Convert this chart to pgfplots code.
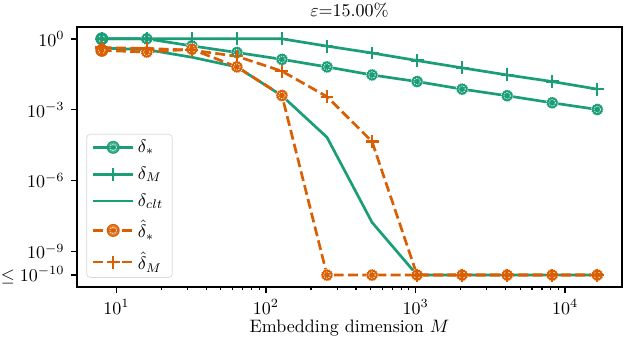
\documentclass[border=0pt]{standalone}
\usepackage{pgfplots}
\pgfplotsset{compat=1.18}
\definecolor{cgreen}{HTML}{1B9E77}
\definecolor{corange}{HTML}{D95F02}
% filled circle with a thin dotted white ring inside
\pgfdeclareplotmark{ringdot}{%
  \pgfpathcircle{\pgfpointorigin}{\pgfplotmarksize}%
  \pgfusepathqfillstroke
  \pgfsetstrokecolor{white}%
  \pgfsetlinewidth{0.35pt}%
  \pgfsetdash{{0.7pt}{0.6pt}}{0pt}%
  \pgfpathcircle{\pgfpointorigin}{0.55\pgfplotmarksize}%
  \pgfusepathqstroke
}
\begin{document}
\begin{tikzpicture}
\begin{axis}[
  scale only axis,
  width=302.8pt, height=144.4pt,
  xmode=log, ymode=log,
  xmin=5.464, xmax=23988,
  ymin=3.162e-11, ymax=3.162,
  xtick={10,100,1000,10000},
  ytick={1e-10,1e-9,1e-6,1e-3,1},
  yticklabels={$\leq 10^{-10}$,$10^{-9}$,$10^{-6}$,$10^{-3}$,$10^{0}$},
  minor ytick={},
  tick pos=left, tick align=outside,
  major tick length=3.5pt, minor tick length=2pt,
  tick style={black, line width=0.8pt},
  minor tick style={line width=0.6pt},
  axis line style={line width=0.8pt},
  every axis title shift=0pt,
  title={$\varepsilon$=15.00\%},
  title style={at={(axis description cs:0.5,1)}, anchor=base, yshift=5.8pt},
  xlabel={Embedding dimension $M$},
  xlabel style={at={(axis description cs:0.5,0)}, anchor=base, yshift=-25.6pt},
  legend style={at={(0.017,0.035)}, anchor=south west, draw=black!15,
    rounded corners=2pt, fill=white, fill opacity=0.8, text opacity=1,
    row sep=2.5pt, inner xsep=3pt, inner ysep=1pt},
  legend cell align=left,
  legend image code/.code={%
    \draw[mark repeat=2,mark phase=2] plot coordinates {(0pt,0pt) (11pt,0pt) (22pt,0pt)};},
]
% delta_*
\addplot[cgreen, line width=1.5pt, mark=ringdot, mark size=3.3pt,
  mark options={solid, fill=cgreen, line width=0.6pt}] coordinates {
  (8,1) (16,1) (32,0.501) (64,0.263) (128,0.135) (256,0.0646) (512,0.0295)
  (1024,0.0155) (2048,0.00741) (4096,0.00389) (8192,0.00195) (16384,0.00102)};
\addlegendentry{$\delta_*$}
% delta_M
\addplot[cgreen, line width=1.5pt, mark=+, mark size=3.6pt,
  mark options={solid, line width=1.2pt}] coordinates {
  (8,1) (16,1) (32,1) (64,1) (128,1) (256,0.490) (512,0.251)
  (1024,0.120) (2048,0.0589) (4096,0.0295) (8192,0.0155) (16384,0.00741)};
\addlegendentry{$\delta_M$}
% delta_clt
\addplot[cgreen, line width=1.5pt] coordinates {
  (8,0.407) (16,0.347) (32,0.166) (64,0.0646) (128,0.00389) (256,6.76e-5) (512,1.70e-8)
  (1024,1e-10) (2048,1e-10) (4096,1e-10) (8192,1e-10) (16384,1e-10)};
\addlegendentry{$\delta_{clt}$}
% hat delta_*
\addplot[corange, line width=1.5pt, dash pattern=on 5.5pt off 2.4pt, mark=ringdot, mark size=3.3pt,
  mark options={solid, fill=corange, line width=0.6pt}] coordinates {
  (8,0.324) (16,0.275) (32,0.363) (64,0.0646) (128,0.00398) (256,1e-10) (512,1e-10)
  (1024,1e-10) (2048,1e-10) (4096,1e-10) (8192,1e-10) (16384,1e-10)};
\addlegendentry{$\hat\delta_*$}
% hat delta_M
\addplot[corange, line width=1.5pt, dash pattern=on 5.5pt off 2.4pt, mark=+, mark size=3.6pt,
  mark options={solid, line width=1.2pt}] coordinates {
  (8,0.427) (16,0.389) (32,0.331) (64,0.182) (128,0.0427) (256,0.00355) (512,4.47e-5)
  (1024,1e-10) (2048,1e-10) (4096,1e-10) (8192,1e-10) (16384,1e-10)};
\addlegendentry{$\hat\delta_M$}
\end{axis}
\pgfresetboundingbox
\path[use as bounding box] ([xshift=-42.8pt,yshift=-29.4pt]current axis.south west)
  rectangle ([xshift=1.1pt,yshift=15pt]current axis.north east);
\end{tikzpicture}
\end{document}
